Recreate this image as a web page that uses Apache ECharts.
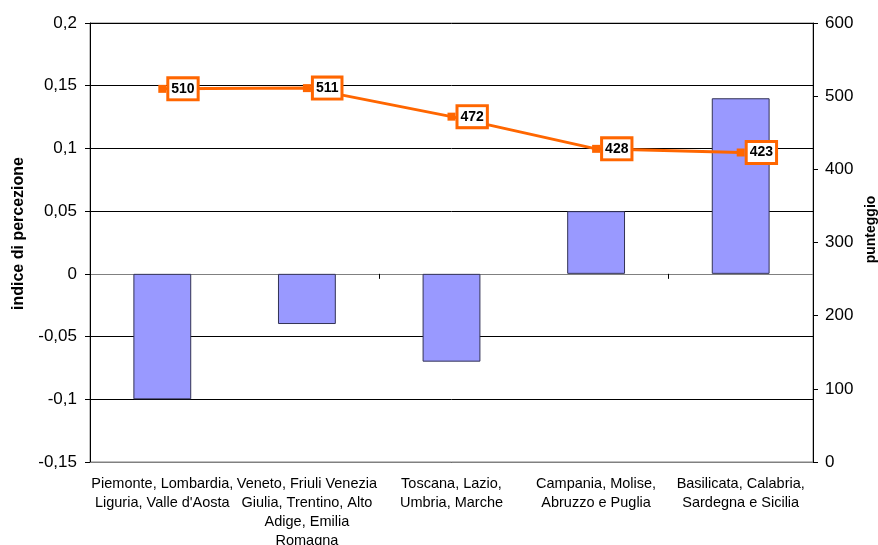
<!DOCTYPE html>
<html>
<head>
<meta charset="utf-8">
<script src="https://cdn.jsdelivr.net/npm/echarts@6/dist/echarts.min.js"></script>
<style>html,body{margin:0;padding:0;background:#fff}#c{width:878px;height:545px}</style>
</head>
<body>
<div id="c"></div>
<script>
const categories = [
  "Piemonte, Lombardia,\nLiguria, Valle d'Aosta",
  "Veneto, Friuli Venezia\nGiulia, Trentino, Alto\nAdige, Emilia\nRomagna",
  "Toscana, Lazio,\nUmbria, Marche",
  "Campania, Molise,\nAbruzzo e Puglia",
  "Basilicata, Calabria,\nSardegna e Sicilia"
];
const indiceValues = [-0.1, -0.04, -0.07, 0.05, 0.14];
const punteggioValues = [510, 511, 472, 428, 423];
const leftAxisName = "indice di percezione";
const rightAxisName = "punteggio";

const FONT = "Liberation Sans, Arial, sans-serif";
const chart = echarts.init(document.getElementById('c'), null, {renderer: 'canvas'});
const fmtLeft = v => String(+(+v).toFixed(2)).replace('.', ',');

chart.setOption({
  animation: false,
  grid: {left: 90, right: 65, top: 23, bottom: 83, show: true, borderColor: '#808080', borderWidth: 1,
         containLabel: false, outerBoundsMode: 'none'},
  xAxis: [
    {
      type: 'category', data: categories, position: 'bottom',
      axisLine: {onZero: true, lineStyle: {color: '#808080', width: 1}},
      axisTick: {show: true, alignWithLabel: false, length: 5, lineStyle: {color: '#000'}},
      axisLabel: {show: false},
      splitLine: {show: false}
    },
    {
      type: 'category', data: categories, position: 'bottom',
      axisLine: {onZero: false, show: true, lineStyle: {color: '#808080'}},
      axisTick: {show: false},
      axisLabel: {show: true, interval: 0, color: '#000', fontFamily: FONT, fontSize: 14.5, lineHeight: 19, margin: 12},
      splitLine: {show: false}
    }
  ],
  yAxis: [
    {
      type: 'value', min: -0.15, max: 0.2, interval: 0.05, position: 'left',
      name: leftAxisName, nameLocation: 'middle', nameRotate: 90, nameGap: 63,
      nameTextStyle: {fontFamily: FONT, fontSize: 16, fontWeight: 'bold', color: '#000', padding: [0, 0, 0, 18]},
      axisLine: {show: true, lineStyle: {color: '#000'}},
      axisTick: {show: true, length: 5, lineStyle: {color: '#000'}},
      axisLabel: {formatter: fmtLeft, color: '#000', fontFamily: FONT, fontSize: 17, margin: 13},
      splitLine: {show: true, lineStyle: {color: '#000', width: 1}}
    },
    {
      type: 'value', min: 0, max: 600, interval: 100, position: 'right',
      name: rightAxisName, nameLocation: 'middle', nameRotate: 90, nameGap: 49,
      nameTextStyle: {fontFamily: FONT, fontSize: 14, fontWeight: 'bold', color: '#000', padding: [0, 0, 0, 26]},
      axisLine: {show: true, lineStyle: {color: '#000'}},
      axisTick: {show: true, length: 5, inside: false, lineStyle: {color: '#000'}},
      axisLabel: {color: '#000', fontFamily: FONT, fontSize: 17, margin: 12},
      splitLine: {show: false}
    }
  ],
  series: [
    {
      type: 'bar', data: indiceValues, xAxisIndex: 0, yAxisIndex: 0,
      barWidth: '40%',
      itemStyle: {color: '#9999FF', borderColor: '#333355', borderWidth: 1}
    },
    {
      type: 'line', data: punteggioValues, xAxisIndex: 0, yAxisIndex: 1,
      symbol: 'rect', symbolSize: 8,
      lineStyle: {color: '#FF6600', width: 3},
      itemStyle: {color: '#FF6600'},
      label: {
        show: true, position: 'right', distance: 3,
        color: '#000', fontFamily: FONT, fontSize: 14, fontWeight: 'bold',
        backgroundColor: '#fff', borderColor: '#FF6600', borderWidth: 3,
        padding: [3, 2, 2, 2]
      },
      z: 5
    }
  ]
});
</script>
</body>
</html>
